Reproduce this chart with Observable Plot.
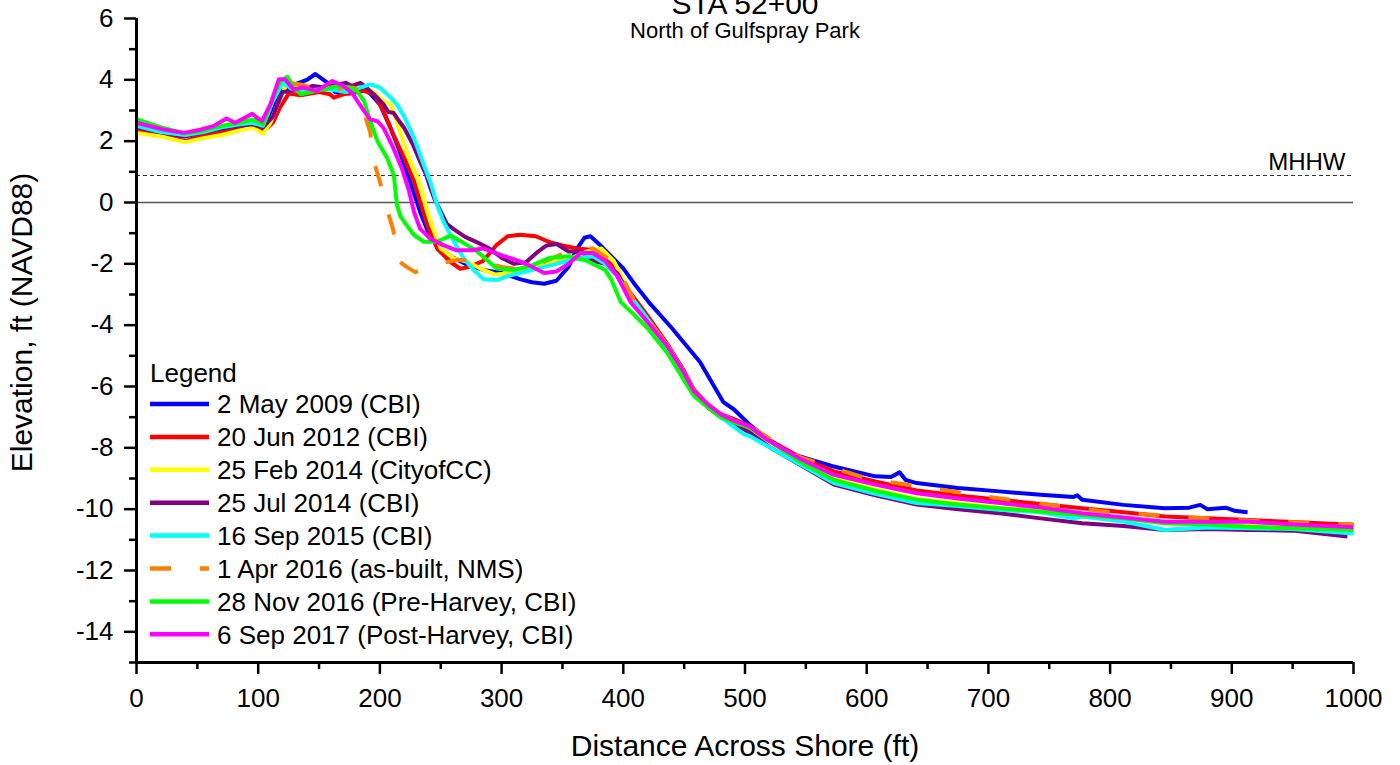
<!DOCTYPE html>
<html><head><meta charset="utf-8">
<script src="https://cdn.jsdelivr.net/npm/d3@7"></script>
<script src="https://cdn.jsdelivr.net/npm/@observablehq/plot@0.6"></script>
<style>
html,body{margin:0;padding:0;background:#fff;}
#wrap{position:relative;width:1400px;height:765px;overflow:hidden;font-family:"Liberation Sans",Arial,sans-serif;}
#legend{position:absolute;left:0;top:0;pointer-events:none;}
</style></head><body><div id="wrap"></div>
<script>
// ---- text ----
const chartTitle = "STA 52+00";
const chartSubtitle = "North of Gulfspray Park";
const xTitle = "Distance Across Shore (ft)";
const yTitle = "Elevation, ft (NAVD88)";
const legendTitle = "Legend";

// ---- series ----
const seriesNames = [
  "2 May 2009 (CBI)",
  "20 Jun 2012 (CBI)",
  "25 Feb 2014 (CityofCC)",
  "25 Jul 2014 (CBI)",
  "16 Sep 2015 (CBI)",
  "1 Apr 2016 (as-built, NMS)",
  "28 Nov 2016 (Pre-Harvey, CBI)",
  "6 Sep 2017 (Post-Harvey, CBI)"
];
const seriesColors = ["#0000ff","#ff0000","#ffff00","#800080","#00ffff","#ff8000","#00ff00","#ff00ff"];
const seriesDashed = [false,false,false,false,false,true,false,false];

const blueX = [0,10,20,38,50,60,75,90,100,106,112,120,130,140,147,157,163,175,182,186,192,200,208,215,222,228,233,240,248,258,270,285,300,315,325,335,345,355,362,368,373,380,390,400,410,422,440,463,482,491,504,518,538,572,607,620,627,632,641,675,709,743,770,773,777,811,845,865,874,880,895,902,913];
const blueY = [2.49,2.4,2.3,2.15,2.3,2.35,2.5,2.6,2.7,2.55,3.1,3.65,3.85,4.0,4.19,3.9,3.6,3.55,3.6,3.7,3.55,3.2,2.5,1.8,1.0,0.3,-0.3,-1.0,-1.45,-1.75,-2.0,-2.2,-2.3,-2.5,-2.6,-2.65,-2.55,-2.1,-1.5,-1.15,-1.1,-1.35,-1.75,-2.15,-2.7,-3.3,-4.1,-5.2,-6.5,-6.75,-7.25,-7.7,-8.2,-8.6,-8.93,-8.95,-8.8,-9.05,-9.15,-9.31,-9.42,-9.53,-9.6,-9.55,-9.69,-9.86,-9.97,-9.95,-9.86,-10.0,-9.95,-10.05,-10.1];

const redX = [0,20,40,55,70,85,95,105,112,118,125,135,150,159,162,170,187,195,203,211,220,228,233,239,247,258,266,274,285,296,305,315,328,340,350,362,375,385,395,405,420,436,450,458,470,480,490,504,518,545,573,607,641,675,709,743,777,811,845,880,914,950,1000];
const redY = [2.39,2.2,2.0,2.2,2.3,2.4,2.5,2.35,2.6,3.1,3.55,3.5,3.6,3.53,3.42,3.53,3.64,3.53,2.98,2.22,1.45,0.69,0.03,-0.74,-1.5,-1.94,-2.16,-2.1,-1.9,-1.38,-1.1,-1.05,-1.1,-1.3,-1.4,-1.5,-1.55,-1.85,-2.2,-2.9,-3.7,-4.6,-5.5,-6.1,-6.6,-6.9,-7.05,-7.29,-7.7,-8.3,-8.77,-9.1,-9.39,-9.55,-9.69,-9.83,-9.97,-10.1,-10.24,-10.3,-10.35,-10.42,-10.51];

const yellowX = [0,20,40,55,70,85,95,104,110,118,125,132,145,160,175,187,195,203,209,215,220,225,231,235,239,245,250,261,272,285,295,310,325,340,355,370,382,392,400,410,420,436,450,458,470,480,490,504,545,572,607,640,675,709,743,777,811,845,880,913,950,1000];
const yellowY = [2.27,2.15,1.97,2.1,2.2,2.35,2.45,2.25,2.6,3.4,4.0,3.75,3.7,3.7,3.7,3.8,3.6,3.3,3.2,2.5,1.89,1.35,0.8,0.3,-0.3,-1.0,-1.5,-1.83,-1.93,-2.2,-2.35,-2.3,-2.1,-1.95,-1.85,-1.6,-1.5,-1.9,-2.5,-3.3,-3.8,-4.65,-5.55,-6.15,-6.6,-6.9,-7.1,-7.4,-8.4,-9.0,-9.35,-9.65,-9.8,-9.95,-10.05,-10.2,-10.3,-10.45,-10.5,-10.55,-10.6,-10.65];

const purpleX = [0,20,40,55,70,85,95,104,112,120,130,145,155,165,172,177,184,190,195,203,207,211,215,220,227,233,238,241.5,245,250,255,260,270,280,290,300,310,320,330,337,345,355,365,375,385,395,405,420,436,450,458,470,480,490,504,521,573,607,641,675,709,743,777,811,845,880,914,950,995];
const purpleY = [2.45,2.3,2.15,2.3,2.4,2.5,2.55,2.45,2.8,3.6,3.65,3.8,3.75,3.85,3.9,3.8,3.9,3.7,3.53,3.2,2.95,2.93,2.7,2.43,1.9,1.34,0.9,0.47,0.1,-0.3,-0.7,-0.85,-1.12,-1.3,-1.5,-1.8,-2.0,-1.95,-1.6,-1.4,-1.35,-1.6,-1.6,-1.9,-2.0,-2.3,-3.0,-3.8,-4.7,-5.6,-6.2,-6.7,-7.0,-7.2,-7.5,-8.0,-9.2,-9.55,-9.85,-10.0,-10.13,-10.3,-10.46,-10.55,-10.68,-10.65,-10.68,-10.7,-10.89];

const cyanX = [0,20,40,55,70,85,95,104,112,120,128,140,155,165,172,180,192,200,209,214,220,228,236,242,247,252,258,264,269,277,285,296,305,320,335,350,365,375,385,395,405,420,436,450,458,469,480,499,504,538,573,607,641,675,709,743,770,777,811,845,880,914,950,1000];
const cyanY = [2.5,2.3,2.2,2.3,2.45,2.55,2.6,2.5,3.3,3.9,3.7,3.65,3.7,3.65,3.6,3.7,3.85,3.75,3.42,3.2,2.8,2.1,1.23,0.6,-0.08,-0.6,-1.06,-1.5,-1.83,-2.2,-2.5,-2.53,-2.4,-2.25,-2.1,-1.95,-1.8,-1.75,-2.0,-2.4,-3.0,-3.8,-4.75,-5.7,-6.3,-6.63,-7.0,-7.55,-7.62,-8.38,-9.15,-9.5,-9.8,-9.9,-10.02,-10.1,-10.3,-10.24,-10.4,-10.68,-10.6,-10.62,-10.65,-10.79];

const orangeX = [125,135,150,160,170,178,184,188,192,195,200,206,211,215,222,229,240,247,264,280,300,320,340,360,375,390,400,410,420,436,450,458,470,480,490,504,545,600,700,800,900,1000];
const orangeY = [3.9,3.85,3.7,3.65,3.75,3.75,3.6,2.8,2.3,1.34,0.68,-0.24,-0.9,-1.9,-2.1,-2.27,-2.1,-2.0,-1.87,-1.9,-2.1,-2.2,-1.85,-1.5,-1.5,-1.9,-2.5,-3.3,-3.85,-4.65,-5.55,-6.15,-6.6,-6.9,-7.1,-7.3,-8.3,-9.0,-9.6,-10.1,-10.35,-10.5];

const greenX = [0,20,40,55,70,85,95,104,112,118,124,129,135,148,165,175,181,187,192,198,206,211.4,214,217,222,228,236,247,258,268,280,296,310,325,340,355,370,385,390,398,410,420,436,450,458,470,480,490,504,545,573,607,641,675,709,743,777,811,845,880,914,950,1000];
const greenY = [2.72,2.45,2.25,2.35,2.5,2.6,2.7,2.55,3.4,3.95,4.1,3.75,3.53,3.64,3.8,3.75,3.64,3.31,2.65,2.0,1.45,0.9,-0.08,-0.46,-0.74,-1.06,-1.28,-1.28,-1.08,-1.3,-1.6,-2.15,-2.2,-2.05,-1.8,-1.75,-1.9,-2.2,-2.5,-3.25,-3.7,-4.1,-4.9,-5.8,-6.3,-6.7,-7.0,-7.15,-7.35,-8.45,-9.05,-9.4,-9.69,-9.85,-9.97,-10.08,-10.19,-10.3,-10.46,-10.5,-10.57,-10.62,-10.68];

const magentaX = [0,22,39,53,63,74,81,95,103,110,117,122,129,137,148,161,170,177,187,192,198,203,211,218,224,228,233,241,252,263,274,285,299,310,320,335,345,355,365,375,385,395,406,420,436,450,458,470,480,490,504,518,545,573,607,641,675,709,743,777,811,845,880,914,950,1000];
const magentaY = [2.6,2.38,2.27,2.38,2.49,2.74,2.6,2.89,2.65,3.2,4.02,4.02,3.69,3.75,3.64,3.96,3.8,3.58,2.98,2.71,2.65,2.43,1.78,1.12,0.36,-0.3,-0.85,-1.17,-1.39,-1.56,-1.56,-1.5,-1.71,-1.85,-2.0,-2.3,-2.25,-2.0,-1.65,-1.65,-1.9,-2.4,-3.25,-3.9,-4.67,-5.55,-6.15,-6.6,-6.9,-7.1,-7.3,-7.73,-8.35,-8.88,-9.2,-9.48,-9.65,-9.8,-9.95,-10.13,-10.27,-10.41,-10.41,-10.41,-10.5,-10.59];

const seriesX = [blueX, redX, yellowX, purpleX, cyanX, orangeX, greenX, magentaX];
const seriesY = [blueY, redY, yellowY, purpleY, cyanY, orangeY, greenY, magentaY];

// ---- axes / reference levels ----
const xDomain = [0, 1000];
const yDomain = [-15, 6];
const xMajorTicks = [0,100,200,300,400,500,600,700,800,900,1000];
const xMinorTicks = [50,150,250,350,450,550,650,750,850,950];
const yMajorTicks = [-14,-12,-10,-8,-6,-4,-2,0,2,4,6];
const yMinorTicks = [-15,-13,-11,-9,-7,-5,-3,-1,1,3,5];
const mhhwLevel = 0.88;
const mhhwLabel = "MHHW";

// ---- build ----
const FONT = '"Liberation Sans", Arial, Helvetica, sans-serif';
const lineMarks = seriesNames.map((name, i) => {
  const rows = seriesX[i].map((x, j) => ({series: name, x, y: seriesY[i][j]}));
  return Plot.line(rows, {
    x: "x", y: "y", stroke: seriesColors[i], strokeWidth: 4,
    strokeDasharray: seriesDashed[i] ? "21,29" : null,
    strokeLinecap: "butt", strokeLinejoin: "round"
  });
});

const chart = Plot.plot({
  width: 1400, height: 765,
  marginLeft: 136, marginRight: 47, marginTop: 18, marginBottom: 103,
  style: {fontFamily: FONT, fontSize: "26px", color: "#000", background: "#fff", overflow: "visible"},
  x: {domain: xDomain},
  y: {domain: yDomain},
  marks: [
    Plot.ruleY([mhhwLevel], {stroke: "#333", strokeWidth: 1.2, strokeDasharray: "4,3"}),
    Plot.ruleY([0], {stroke: "#555", strokeWidth: 1.6}),
    ...lineMarks,
    Plot.text([mhhwLabel], {x: xDomain[1], y: mhhwLevel, text: d => d, textAnchor: "end", lineAnchor: "bottom", dx: -8, dy: -6, fontSize: 24, fill: "#000"}),
    Plot.axisY({ticks: yMajorTicks, tickSize: 12, tickPadding: 11, tickFormat: d => String(d), label: null, strokeWidth: 2.5, fontSize: 26}),
    Plot.axisY({ticks: yMinorTicks, tickSize: 7, tickFormat: () => "", label: null, strokeWidth: 2.5}),
    Plot.axisX({ticks: xMajorTicks, tickSize: 12, tickPadding: 14, tickFormat: d => String(d), label: null, strokeWidth: 2.5, fontSize: 26}),
    Plot.axisX({ticks: xMinorTicks, tickSize: 7, tickFormat: () => "", label: null, strokeWidth: 2.5}),
    Plot.ruleX([xDomain[0]], {stroke: "#000", strokeWidth: 3}),
    Plot.ruleY([yDomain[0]], {stroke: "#000", strokeWidth: 3}),
    Plot.text([chartTitle], {text: d => d, frameAnchor: "top", textAnchor: "middle", lineAnchor: "bottom", dy: -5, fontSize: 30}),
    Plot.text([chartSubtitle], {text: d => d, frameAnchor: "top", textAnchor: "middle", lineAnchor: "bottom", dy: 19, fontSize: 22}),
    Plot.text([xTitle], {text: d => d, frameAnchor: "bottom", textAnchor: "middle", lineAnchor: "bottom", dy: 93, fontSize: 30}),
    Plot.text([yTitle], {text: d => d, frameAnchor: "left", textAnchor: "middle", lineAnchor: "bottom", rotate: -90, dx: -105, dy: -18, fontSize: 30})
  ]
});
const wrap = document.getElementById("wrap");
wrap.appendChild(chart);

// ---- legend overlay ----
const lg = d3.select(wrap).append("svg").attr("id", "legend")
  .attr("width", 1400).attr("height", 765)
  .style("font-family", FONT);
lg.append("text").attr("x", 150).attr("y", 382).attr("font-size", 26).text(legendTitle);
const rowH = 32.9, row0 = 404;
seriesNames.forEach((name, i) => {
  const cy = row0 + i * rowH;
  lg.append("line").attr("x1", 150).attr("x2", 209).attr("y1", cy).attr("y2", cy)
    .attr("stroke", seriesColors[i]).attr("stroke-width", 4.5)
    .attr("stroke-dasharray", seriesDashed[i] ? "21,29" : null);
  lg.append("text").attr("x", 217).attr("y", cy + 9.3).attr("font-size", 26).text(name);
});
</script></body></html>
